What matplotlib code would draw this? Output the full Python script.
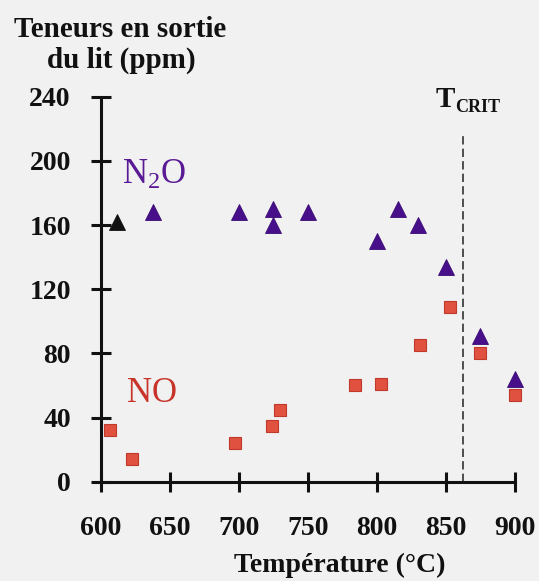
import matplotlib
matplotlib.use("Agg")
import matplotlib.pyplot as plt

plt.rcParams['font.family'] = ['Liberation Serif', 'DejaVu Serif']
plt.rcParams['mathtext.fontset'] = 'custom'
plt.rcParams['mathtext.rm'] = 'Liberation Serif'
plt.rcParams['mathtext.it'] = 'Liberation Serif:italic'
plt.rcParams['mathtext.bf'] = 'Liberation Serif:bold'

# Data
temp_n2o_black = [612]
n2o_black = [162]
temp_n2o = [638, 700, 725, 725, 750, 800, 815, 830, 850, 875, 900]
n2o = [168, 168, 170, 160, 168, 150, 170, 160, 134, 91, 64]
temp_no = [607, 623, 697, 724, 730, 784, 803, 831, 853, 875, 900]
no = [32, 14, 24, 35, 45, 60, 61, 85, 109, 80, 54]
t_crit = 862
x_ticks = [600, 650, 700, 750, 800, 850, 900]
y_ticks = [0, 40, 80, 120, 160, 200, 240]

W, H = 539, 581
BG = '#f1f1f1'
fig = plt.figure(figsize=(W / 100, H / 100), dpi=100, facecolor=BG)


def px(x, y):
    return x / W, 1 - y / H


left, bottom = 100.7 / W, 1 - 481.7 / H
width, height = (515 - 100.7) / W, (481.7 - 96.7) / H
ax = fig.add_axes([left, bottom, width, height], facecolor=BG)
ax.set_xlim(600, 900)
ax.set_ylim(0, 240)

for s in ['top', 'right']:
    ax.spines[s].set_visible(False)
for s in ['left', 'bottom']:
    ax.spines[s].set_linewidth(2.2)
    ax.spines[s].set_color('#111111')

ax.set_xticks(x_ticks)
ax.set_yticks(y_ticks)
ax.tick_params(axis='both', direction='inout', length=15, width=2.2,
               color='#111111', labelsize=20, labelcolor='#111111')
ax.tick_params(axis='x', pad=17)
ax.tick_params(axis='y', pad=14)
for lab in ax.get_xticklabels() + ax.get_yticklabels():
    lab.set_fontweight('bold')

# dashed critical temperature line
ax.plot([t_crit, t_crit], [0, 218], ls=(0, (5, 2.5)), lw=1.2, color='#333333',
        clip_on=False, zorder=2)

ax.plot(temp_n2o, n2o, ls='none', marker='^', ms=11, mfc='#47108a',
        mec='#3a0a75', mew=0.6, clip_on=False, zorder=4)
ax.plot(temp_n2o_black, n2o_black, ls='none', marker='^', ms=11,
        mfc='#111111', mec='#111111', mew=0.6, clip_on=False, zorder=4)
ax.plot(temp_no, no, ls='none', marker='s', ms=8.8, mfc='#e0513f',
        mec='#c0392b', mew=0.8, clip_on=False, zorder=3)

# Title (y axis label)
fig.text(*px(120, 37), 'Teneurs en sortie', ha='center', va='baseline',
         fontsize=21, fontweight='bold', color='#111111')
fig.text(*px(121, 68), 'du lit (ppm)', ha='center', va='baseline',
         fontsize=21, fontweight='bold', color='#111111')

# X label
fig.text(*px(340, 572), 'Température (°C)', ha='center', va='baseline',
         fontsize=20, fontweight='bold', color='#111111')

# Series labels
fig.text(*px(122, 184), r'N$_\mathrm{2}$O', ha='left', va='baseline',
         fontsize=25, color='#5a1a95')
fig.text(*px(127, 402), 'NO', ha='left', va='baseline',
         fontsize=25, color='#c8342a')

# T_CRIT
fig.text(*px(436, 107), 'T', ha='left', va='baseline', fontsize=21,
         fontweight='bold', color='#111111')
fig.text(*px(455, 112), 'CRIT', ha='left', va='baseline', fontsize=13,
         fontweight='bold', color='#111111')

fig.savefig('out.png', dpi=100, facecolor=BG)
